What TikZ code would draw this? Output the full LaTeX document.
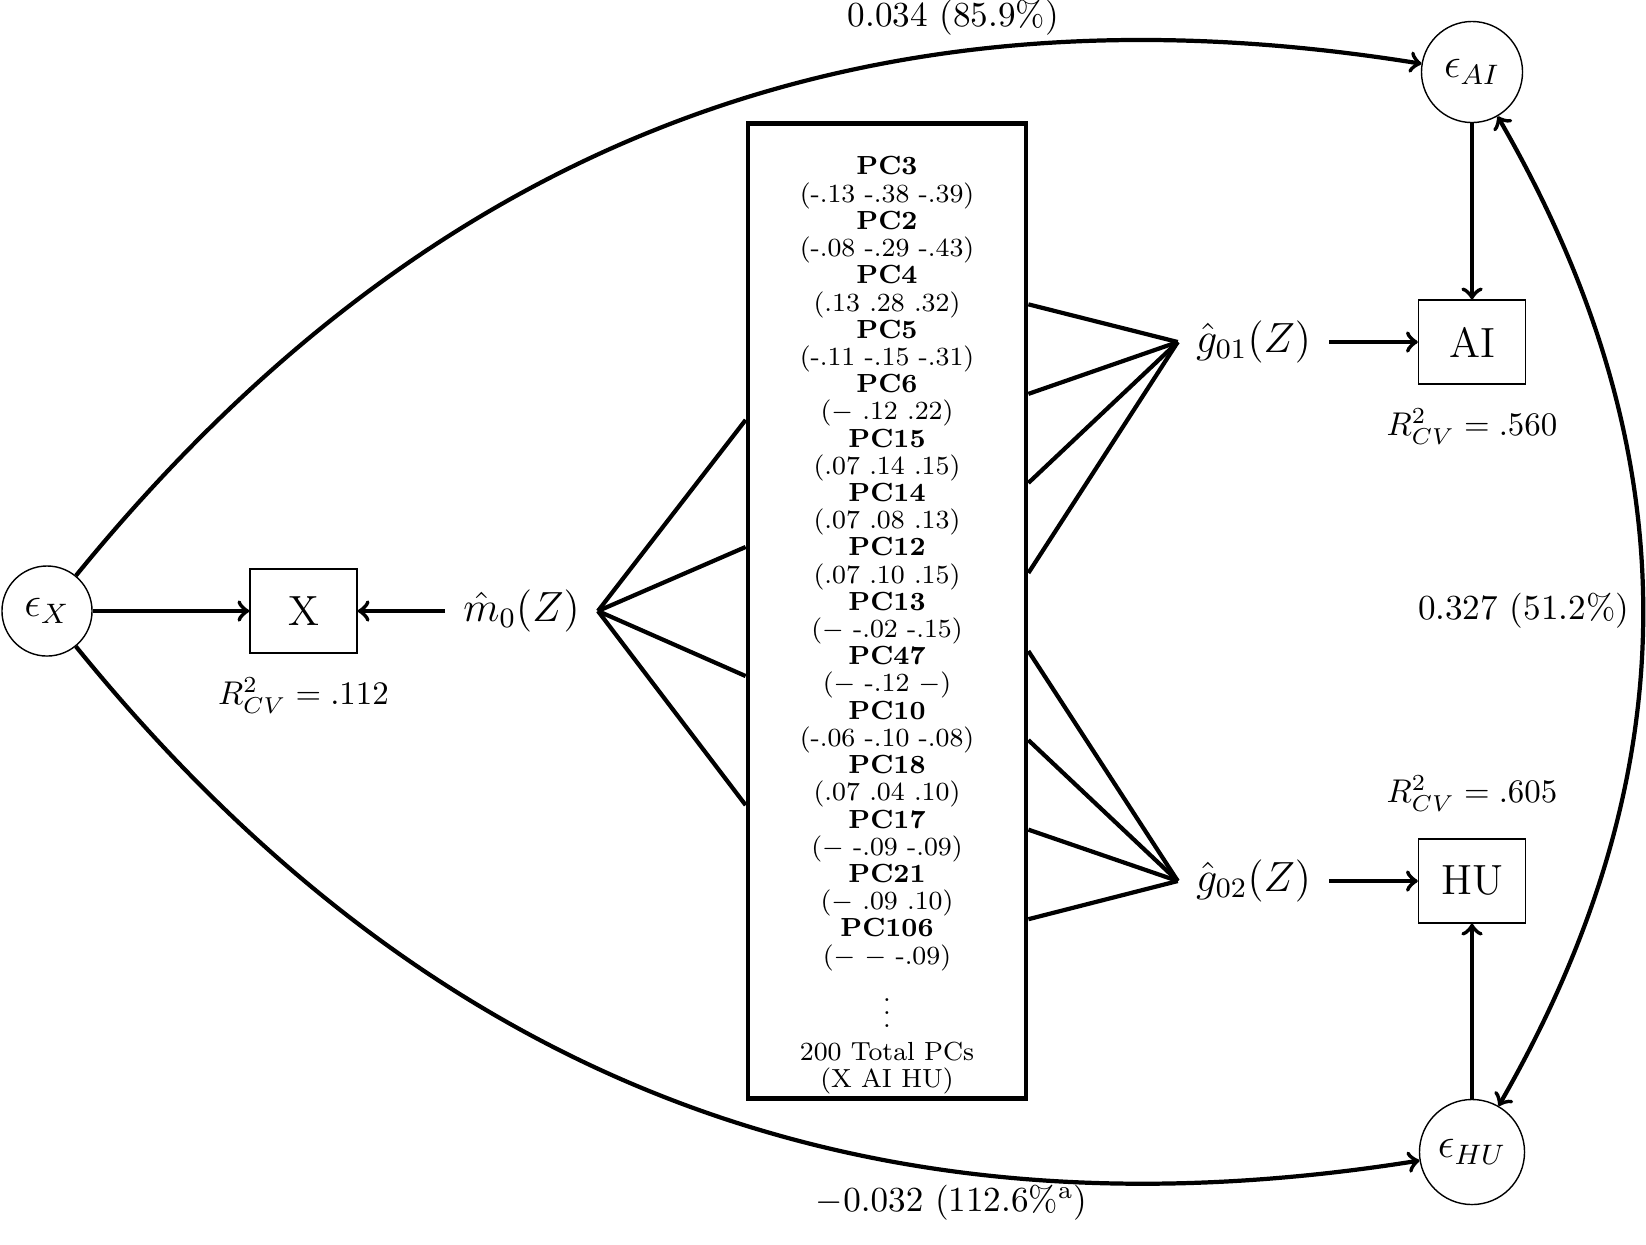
\documentclass[tikz,border=0pt]{standalone}
\usetikzlibrary{positioning}
\begin{document}
\begin{tikzpicture}[x=0.01cm,y=0.01cm,
  conn/.style={very thick},
  arr/.style={very thick,->},
  latent/.style={circle,draw,thin,inner sep=0pt,font=\large},
  obs/.style={rectangle,draw,thin,minimum width=1.07cm,minimum height=0.84cm,font=\large},
  fn/.style={inner sep=0pt,inner xsep=5pt,font=\large},
  lab/.style={font=\normalsize},
  rlab/.style={font=\normalsize,scale=0.935,transform shape}]
\useasboundingbox (0,0) rectangle (1646,-1244);
% latent nodes
\node[latent,minimum size=0.9cm] (ex) at (47,-611) {$\epsilon_X$};
\node[latent,minimum size=1.01cm] (eai) at (1472,-72) {$\epsilon_{AI}$};
\node[latent,minimum size=1.05cm] (ehu) at (1472,-1152) {$\epsilon_{HU}$};
% observed nodes
\node[obs] (x) at (303.5,-611) {X};
\node[obs] (ai) at (1472,-342) {AI};
\node[obs] (hu) at (1472,-881) {HU};
% functions
\node[fn] (m0) at (521.5,-611) {$\hat{m}_0(Z)$};
\node[fn] (g01) at (1253.5,-342) {$\hat{g}_{01}(Z)$};
\node[fn] (g02) at (1253.5,-881) {$\hat{g}_{02}(Z)$};
% R2 labels
\node[rlab] (r1) at (303.5,-696) {$R^2_{CV} = .112$};
\node[rlab] (r2) at (1472,-427) {$R^2_{CV} = .560$};
\node[rlab] (r3) at (1472,-794) {$R^2_{CV} = .605$};
% PC box
\node[draw,line width=1.3pt,minimum width=2.78cm,minimum height=9.74cm,inner sep=0pt] (box) at (887,-611) {};
\node[align=center,font=\fontsize{8}{8.32}\selectfont,inner sep=0pt,anchor=north,scale=0.93,transform shape] (pcs) at (887,-156) {%
\textbf{PC3}\\(-.13 -.38 -.39)\\
\textbf{PC2}\\(-.08 -.29 -.43)\\
\textbf{PC4}\\(.13 .28 .32)\\
\textbf{PC5}\\(-.11 -.15 -.31)\\
\textbf{PC6}\\($-$ .12 .22)\\
\textbf{PC15}\\(.07 .14 .15)\\
\textbf{PC14}\\(.07 .08 .13)\\
\textbf{PC12}\\(.07 .10 .15)\\
\textbf{PC13}\\($-$ -.02 -.15)\\
\textbf{PC47}\\($-$ -.12 $-$)\\
\textbf{PC10}\\(-.06 -.10 -.08)\\
\textbf{PC18}\\(.07 .04 .10)\\
\textbf{PC17}\\($-$ -.09 -.09)\\
\textbf{PC21}\\($-$ .09 .10)\\
\textbf{PC106}\\($-$ $-$ -.09)\\[1.6pt]
$\vdots$\\[1.7pt]
200 Total PCs\\(X AI HU)};
% box edge points
\coordinate (l1) at ([yshift=1.91cm]box.west);
\coordinate (l2) at ([yshift=0.64cm]box.west);
\coordinate (l3) at ([yshift=-0.65cm]box.west);
\coordinate (l4) at ([yshift=-1.94cm]box.west);
\coordinate (a1) at ([yshift=3.065cm]box.east);
\coordinate (a2) at ([yshift=2.17cm]box.east);
\coordinate (a3) at ([yshift=1.28cm]box.east);
\coordinate (a4) at ([yshift=0.38cm]box.east);
\coordinate (h1) at ([yshift=-0.40cm]box.east);
\coordinate (h2) at ([yshift=-1.29cm]box.east);
\coordinate (h3) at ([yshift=-2.185cm]box.east);
\coordinate (h4) at ([yshift=-3.08cm]box.east);
% connectors
\foreach \p in {l1,l2,l3,l4} \draw[conn] (m0.east) -- (\p);
\foreach \p in {a1,a2,a3,a4} \draw[conn] (\p) -- (g01.west);
\foreach \p in {h1,h2,h3,h4} \draw[conn] (\p) -- (g02.west);
\draw[arr] (ex) -- (x);
\draw[arr] (m0) -- (x);
\draw[arr] (g01) -- (ai);
\draw[arr] (g02) -- (hu);
\draw[arr] (eai) -- (ai);
\draw[arr] (ehu) -- (hu);
\draw[arr] (ex) to[bend left=30] node[lab,pos=0.7,above=1pt] {0.034 (85.9\%)} (eai);
\draw[arr] (ex) to[bend right=30] node[lab,pos=0.7,below] {$-0.032$ (112.6\%\textsuperscript{a})} (ehu);
\draw[very thick,<->] (eai) to[bend left=30] node[lab,midway,left] {0.327 (51.2\%)} (ehu);
\end{tikzpicture}
\end{document}
